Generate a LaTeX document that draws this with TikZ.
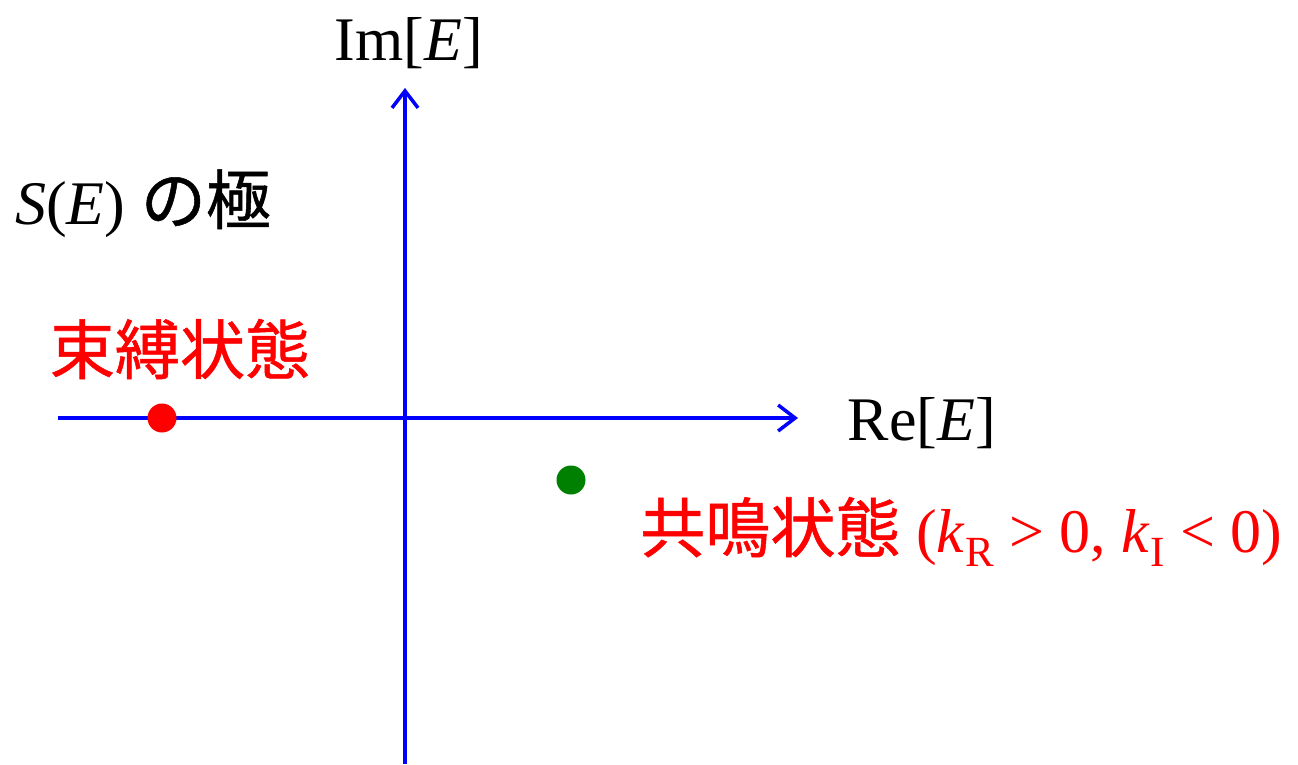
\documentclass[tikz,border=0pt]{standalone}
\usepackage{fontspec}
\setmainfont{Liberation Serif}
\newfontfamily\jpfont[Scale=1.05,FakeBold=0.8]{Noto Sans CJK JP}
\usetikzlibrary{arrows.meta}

\definecolor{axisblue}{RGB}{0,0,255}
\definecolor{statered}{RGB}{255,0,0}
\definecolor{polegreen}{RGB}{0,128,0}

\newcommand{\lowidx}[1]{\raisebox{-0.24em}{\fontsize{43}{43}\selectfont #1}}

\tikzset{
    axis/.style={axisblue, line width=3.5pt,
        -{Straight Barb[length=17pt,width=26pt,line width=3.5pt]}},
    label/.style={inner sep=0pt, font=\fontsize{62}{74}\selectfont},
    pole/.style={circle, inner sep=0pt, minimum size=29pt},
}

\begin{document}
\begin{tikzpicture}[x=1pt,y=-1pt]
    \useasboundingbox (0,0) rectangle (1298,764);

    \coordinate (re-start) at (58,418);
    \coordinate (re-end) at (798,418);
    \coordinate (im-start) at (405,764);
    \coordinate (im-end) at (405,88);

    \draw [axis]
        (re-start) -- (re-end)
        ;
    \draw [axis]
        (im-start) -- (im-end)
        ;

    \node [label, anchor=base] (im-label) at (409,60) {Im[\textit{E}]};
    \node [label, anchor=base] (re-label) at (922,440) {Re[\textit{E}]};
    \node [label, anchor=base west] (poles) at (15,224)
        {\textit{S}(\textit{E}) {\jpfont の極}};

    \node [pole, fill=statered] (bound) at (162,418) {};
    \node [pole, fill=polegreen] (resonance) at (571,480) {};

    \node [label, statered] (bound-label) at (180,349) {\jpfont 束縛状態};
    \node [label, statered, anchor=base west] (resonance-label) at (640,552)
        {{\jpfont 共鳴状態} (\textit{k}\lowidx{R} > 0, \textit{k}\lowidx{I} < 0)};
\end{tikzpicture}
\end{document}
